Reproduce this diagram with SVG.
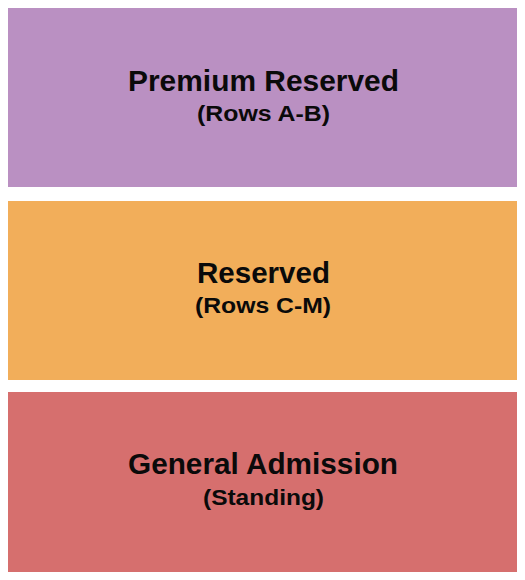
<svg xmlns="http://www.w3.org/2000/svg" width="525" height="580" viewBox="0 0 525 580">
<style>
.t{font-family:"Liberation Sans",Arial,sans-serif;font-weight:bold;fill:#0a0a0a;text-anchor:middle}
.h{font-size:29px}
.s{font-size:22px}
</style>
<rect width="525" height="580" fill="#fff"/>
<g id="premium">
<rect x="8" y="8" width="509" height="179" fill="#BA90C2"/>
<text class="t h" x="263.5" y="91" textLength="271" lengthAdjust="spacingAndGlyphs">Premium Reserved</text>
<text class="t s" x="263.5" y="121" textLength="133" lengthAdjust="spacingAndGlyphs">(Rows A-B)</text>
</g>
<g id="reserved">
<rect x="8" y="201" width="509" height="179" fill="#F2AE5A"/>
<text class="t h" x="263.5" y="283" textLength="133" lengthAdjust="spacingAndGlyphs">Reserved</text>
<text class="t s" x="263" y="313" textLength="136" lengthAdjust="spacingAndGlyphs">(Rows C-M)</text>
</g>
<g id="ga">
<rect x="8" y="392" width="509" height="180" fill="#D66F6E"/>
<text class="t h" x="263" y="474" textLength="270" lengthAdjust="spacingAndGlyphs">General Admission</text>
<text class="t s" x="263.5" y="505" textLength="121" lengthAdjust="spacingAndGlyphs">(Standing)</text>
</g>
<g id="connectors"/>
</svg>
